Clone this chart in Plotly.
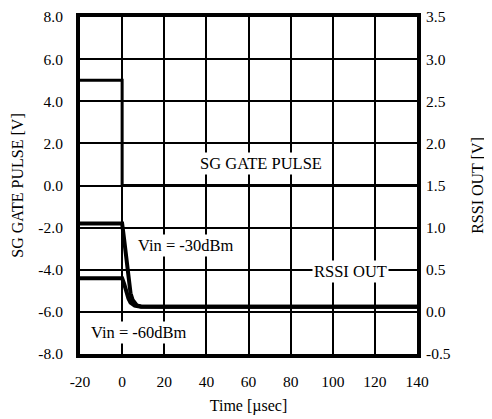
import plotly.graph_objects as go

# Data
gate_t = [-20, -10, 0, 0, 20, 60, 100, 140]
gate_v = [5.0, 5.0, 5.0, 0.0, 0.0, 0.0, 0.0, 0.0]

rssi_t = [-20, 0, 1, 2, 3, 4, 5, 6, 7, 9, 20, 60, 100, 140]
rssi_30 = [1.05, 1.05, 0.85, 0.6, 0.38, 0.22, 0.14, 0.10, 0.075, 0.065, 0.06, 0.06, 0.06, 0.06]
rssi_60 = [0.40, 0.40, 0.33, 0.24, 0.16, 0.11, 0.09, 0.075, 0.068, 0.062, 0.06, 0.06, 0.06, 0.06]

x_ticks = [-20, 0, 20, 40, 60, 80, 100, 120, 140]
y1_ticks = [-8, -6, -4, -2, 0, 2, 4, 6, 8]
y2_ticks = [-0.5, 0, 0.5, 1.0, 1.5, 2.0, 2.5, 3.0, 3.5]

FONT = "Times New Roman"

fig = go.Figure()
fig.add_trace(go.Scatter(x=gate_t, y=gate_v, mode="lines",
                         line=dict(color="black", width=3), yaxis="y", showlegend=False))
fig.add_trace(go.Scatter(x=rssi_t, y=rssi_30, mode="lines",
                         line=dict(color="black", width=4), yaxis="y2", showlegend=False))
fig.add_trace(go.Scatter(x=rssi_t, y=rssi_60, mode="lines",
                         line=dict(color="black", width=4), yaxis="y2", showlegend=False))

ann_font = dict(family=FONT, size=16.5, color="black")
fig.add_annotation(x=66, y=1.05, xref="x", yref="y", text="SG GATE PULSE", showarrow=False,
                   font=ann_font, bgcolor="white")
fig.add_annotation(x=30.5, y=-2.85, xref="x", yref="y", text="Vin = -30dBm", showarrow=False,
                   font=ann_font, bgcolor="white")
fig.add_annotation(x=108.5, y=-4.1, xref="x", yref="y", text="RSSI OUT", showarrow=False,
                   font=ann_font, bgcolor="white")
fig.add_annotation(x=8, y=-7.0, xref="x", yref="y", text="Vin = -60dBm", showarrow=False,
                   font=ann_font, bgcolor="white")

tick_font = dict(family=FONT, size=15.5, color="black")
title_font = dict(family=FONT, size=16, color="black")
fig.update_layout(
    width=492, height=419,
    margin=dict(l=72, r=83, t=9, b=73),
    paper_bgcolor="white", plot_bgcolor="white",
    font=dict(family=FONT, size=15, color="black"),
    xaxis=dict(range=[-20, 140], tickvals=x_ticks, ticktext=[str(v) for v in x_ticks],
               showgrid=True, gridcolor="black", gridwidth=1.5, zeroline=False,
               showline=True, linecolor="black", linewidth=4, mirror=True,
               ticks="", tickfont=tick_font, ticklabelstandoff=10, automargin=False,
               title=dict(text="Time [µsec]", font=title_font, standoff=12)),
    yaxis=dict(range=[-8, 8], tickvals=y1_ticks, ticktext=[f"{v:.1f}" for v in y1_ticks],
               showgrid=True, gridcolor="black", gridwidth=1.5, zeroline=False,
               showline=True, linecolor="black", linewidth=4, mirror=True,
               ticks="", tickfont=tick_font, ticklabelstandoff=10, automargin=False,
               title=dict(text="SG GATE PULSE [V]", font=title_font, standoff=12)),
    yaxis2=dict(range=[-0.5, 3.5], tickvals=y2_ticks, ticktext=[f"{v:.1f}" for v in y2_ticks],
                overlaying="y", side="right", showgrid=False, zeroline=False,
                showline=False, ticks="", tickfont=tick_font, ticklabelstandoff=8, automargin=False,
                title=dict(text="RSSI OUT [V]", font=title_font, standoff=22)),
)

fig.write_html("out.html")
